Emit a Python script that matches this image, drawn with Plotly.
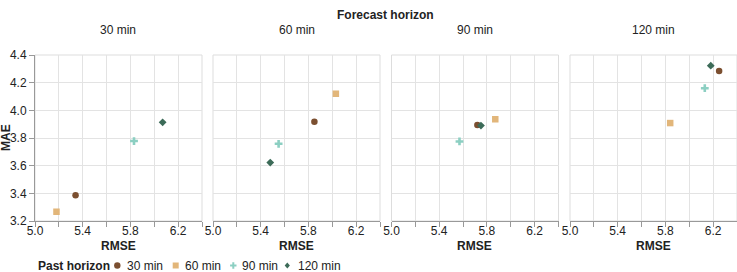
import plotly.graph_objects as go

forecast_horizons = ["30 min", "60 min", "90 min", "120 min"]
past_horizons = ["30 min", "60 min", "90 min", "120 min"]

# rmse[past][forecast], mae[past][forecast]
rmse = {
    "30 min":  [5.34, 5.85, 5.72, 6.25],
    "60 min":  [5.18, 6.03, 5.87, 5.84],
    "90 min":  [5.83, 5.55, 5.57, 6.13],
    "120 min": [6.07, 5.48, 5.75, 6.18],
}
mae = {
    "30 min":  [3.387, 3.918, 3.894, 4.284],
    "60 min":  [3.267, 4.120, 3.935, 3.908],
    "90 min":  [3.778, 3.758, 3.775, 4.160],
    "120 min": [3.913, 3.622, 3.890, 4.323],
}

colors = {"30 min": "#7b4f30", "60 min": "#e2b67a", "90 min": "#8ccfc2", "120 min": "#3c6b58"}
symbols = {"30 min": "circle", "60 min": "square", "90 min": "cross", "120 min": "diamond"}
sizes = {"30 min": 6.5, "60 min": 6.5, "90 min": 6.5, "120 min": 6}

W, H = 737, 272
starts = [35, 213, 391.5, 570]
pw = 167
top, bottom = 55, 221

FONT = "Liberation Sans, Arial, sans-serif"
TXT = "#222"
fig = go.Figure()

for i, fh in enumerate(forecast_horizons):
    ax = "" if i == 0 else str(i + 1)
    for ph in past_horizons:
        fig.add_trace(go.Scatter(
            x=[rmse[ph][i]], y=[mae[ph][i]],
            mode="markers",
            marker=dict(symbol=symbols[ph], color=colors[ph], size=sizes[ph], line=dict(width=0)),
            name=ph, legendgroup=ph, showlegend=False,
            xaxis="x" + ax, yaxis="y" + ax,
        ))
    dom = [starts[i] / W, (starts[i] + pw) / W]
    fig.layout["xaxis" + ax] = dict(
        domain=dom, range=[5.0, 6.4], tick0=5.0, dtick=0.4, tickformat=".1f",
        showgrid=True, gridcolor="#e3e3e3", gridwidth=1,
        minor=dict(dtick=0.2, tick0=5.0, showgrid=True, gridcolor="#e3e3e3",
                   ticks="outside", ticklen=5, tickcolor="#999"),
        ticks="outside", ticklen=5, tickcolor="#999",
        ticklabelstandoff=-6,
        showline=True, linecolor="#999", linewidth=1,
        tickfont=dict(family=FONT, size=12, color=TXT),
        zeroline=False, fixedrange=True, automargin=False,
        anchor="y" + ax,
    )
    fig.layout["yaxis" + ax] = dict(
        domain=[(H - bottom) / H, (H - top) / H], range=[3.2, 4.4], dtick=0.2, tick0=3.2,
        showgrid=True, gridcolor="#e3e3e3", gridwidth=1,
        showticklabels=(i == 0), ticks="outside" if i == 0 else "",
        ticklen=5, tickcolor="#999",
        showline=(i == 0), linecolor="#999", linewidth=1,
        tickfont=dict(family=FONT, size=12, color=TXT),
        tickformat=".1f",
        zeroline=False, fixedrange=True, automargin=False,
        anchor="x" + ax,
    )
    fig.add_shape(type="rect", xref="x" + ax + " domain", yref="y" + ax + " domain",
                  x0=0, x1=1, y0=0, y1=1, line=dict(color="#dddddd", width=1), layer="below")
    fig.add_annotation(text=fh, xref="paper", yref="paper",
                       x=(starts[i] + pw / 2) / W, y=(H - 30) / H,
                       showarrow=False, font=dict(family=FONT, size=12, color=TXT),
                       xanchor="center", yanchor="middle")
    fig.add_annotation(text="<b>RMSE</b>", xref="paper", yref="paper",
                       x=(starts[i] + pw / 2) / W, y=(H - 246) / H,
                       showarrow=False, font=dict(family=FONT, size=12, color=TXT),
                       xanchor="center", yanchor="middle")

fig.add_annotation(text="<b>Forecast horizon</b>", xref="paper", yref="paper",
                   x=385.5 / W, y=(H - 15) / H, showarrow=False,
                   font=dict(family=FONT, size=12, color=TXT),
                   xanchor="center", yanchor="middle")
fig.add_annotation(text="<b>MAE</b>", xref="paper", yref="paper",
                   x=6 / W, y=(H - 138) / H, showarrow=False, textangle=-90,
                   font=dict(family=FONT, size=12, color=TXT),
                   xanchor="center", yanchor="middle")

# Legend (drawn manually for compact spacing)
leg_y = (H - 265.5) / H
fig.add_annotation(text="<b>Past horizon</b>", xref="paper", yref="paper",
                   x=36 / W, y=leg_y, showarrow=False, xanchor="left", yanchor="middle",
                   font=dict(family=FONT, size=12, color=TXT))
legend_symbol_x = [117.3, 175.7, 233.3, 287.3]
legend_text_x = [125, 182.5, 239.5, 296]
glyph_paths = {
    "circle": None,
    "square": "M-3,-3H3V3H-3Z",
    "cross": "M-1,-3.2H1V-1H3.2V1H1V3.2H-1V1H-3.2V-1H-1Z",
    "diamond": "M-2.6,0L0,3L2.6,0L0,-3Z",
}
for ph, sx, tx in zip(past_horizons, legend_symbol_x, legend_text_x):
    sym = symbols[ph]
    common = dict(xref="paper", yref="paper", xsizemode="pixel", ysizemode="pixel",
                  xanchor=sx / W, yanchor=leg_y, fillcolor=colors[ph], line=dict(width=0))
    if sym == "circle":
        fig.add_shape(type="circle", x0=-3.2, x1=3.2, y0=-3.2, y1=3.2, **common)
    else:
        fig.add_shape(type="path", path=glyph_paths[sym], **common)
    fig.add_annotation(text=ph, xref="paper", yref="paper", x=tx / W, y=leg_y,
                       showarrow=False, xanchor="left", yanchor="middle",
                       font=dict(family=FONT, size=12, color=TXT))

fig.update_layout(
    template="none",
    width=W, height=H,
    margin=dict(l=0, r=0, t=0, b=0, pad=0, autoexpand=False),
    paper_bgcolor="white", plot_bgcolor="white",
    font=dict(family=FONT, size=12, color=TXT),
    showlegend=False,
)

fig.write_html("out.html")
